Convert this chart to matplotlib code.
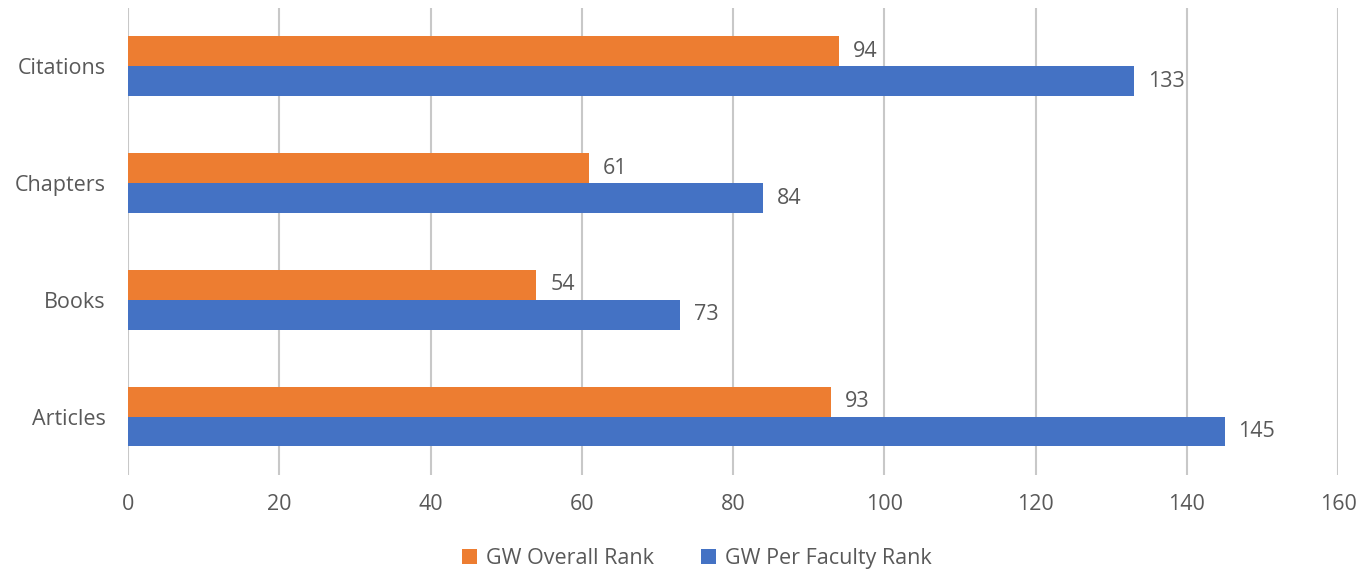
import matplotlib.pyplot as plt
import numpy as np

plt.rcParams['font.family'] = ['Open Sans', 'DejaVu Sans']

categories = ['Articles', 'Books', 'Chapters', 'Citations']
overall_rank = [93, 54, 61, 94]
per_faculty_rank = [145, 73, 84, 133]

fig = plt.figure(figsize=(13.69, 5.70), dpi=100)
ax = fig.add_axes([0.0935, 0.1667, 0.8839, 0.8193])

y = np.arange(len(categories))
h = 0.256
txt = '#595959'

b1 = ax.barh(y + h / 2, overall_rank, height=h, color='#ED7D31', label='GW Overall Rank', zorder=3)
b2 = ax.barh(y - h / 2, per_faculty_rank, height=h, color='#4472C4', label='GW Per Faculty Rank', zorder=3)

for bars in (b1, b2):
    ax.bar_label(bars, padding=10, fontsize=15.5, color=txt)

ax.set_xlim(0, 160)
ax.set_ylim(-0.5, 3.5)
ax.set_xticks(np.arange(0, 161, 20))
ax.set_yticks(y)
ax.set_yticklabels(categories)
ax.tick_params(length=0, labelsize=15.5, labelcolor=txt)
ax.tick_params(axis='x', pad=14)
ax.tick_params(axis='y', pad=16)
ax.grid(axis='x', color='#c8c8c8', linewidth=1.5, zorder=0)
for s in ax.spines.values():
    s.set_visible(False)

ax.legend(loc='upper center', bbox_to_anchor=(0.47, -0.115), ncol=2, frameon=False,
          fontsize=15.5, labelcolor=txt, handlelength=0.7, handleheight=0.7,
          handletextpad=0.4, columnspacing=2.2)

fig.savefig('out.png', dpi=100)
